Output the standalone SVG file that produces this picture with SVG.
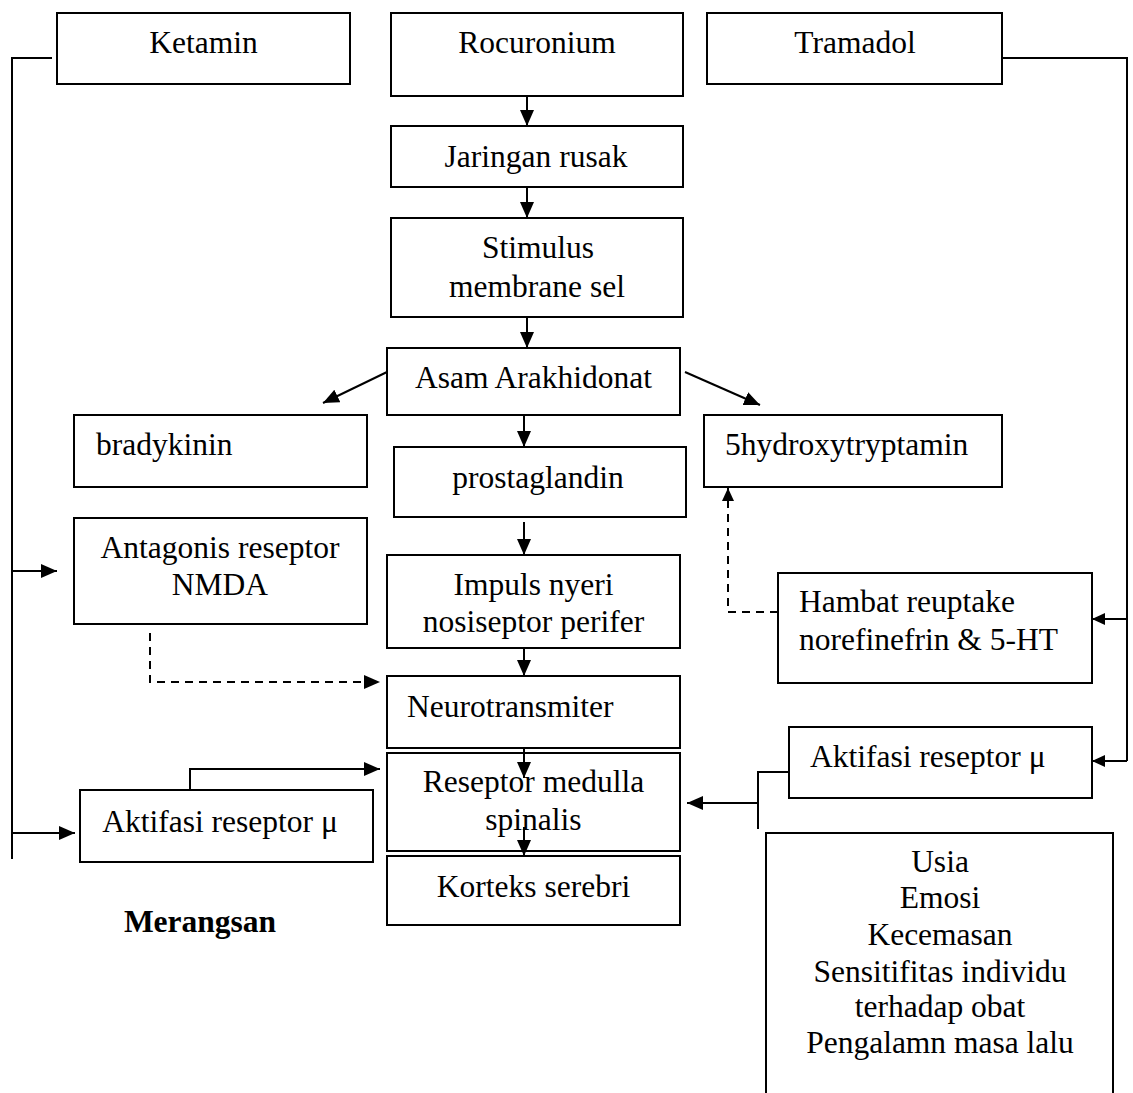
<svg xmlns="http://www.w3.org/2000/svg" width="1133" height="1093" viewBox="0 0 1133 1093">
<defs>
<style>
.b{fill:#fff;stroke:#000;stroke-width:2}
.t{font-family:"Liberation Serif","Times New Roman",serif;font-size:31.5px;fill:#000}
.c{text-anchor:middle}
.l{fill:none;stroke:#000;stroke-width:2}
.d{fill:none;stroke:#000;stroke-width:2;stroke-dasharray:8,6}
.a{marker-end:url(#ah)}
.s{marker-end:url(#as)}
</style>
<marker id="ah" markerUnits="userSpaceOnUse" markerWidth="17" markerHeight="15" refX="16" refY="7" orient="auto">
<path d="M0,0 L16,7 L0,14 z" fill="#000"/>
</marker>
<marker id="as" markerUnits="userSpaceOnUse" markerWidth="14" markerHeight="13" refX="13" refY="6" orient="auto">
<path d="M0,0 L13,6 L0,12 z" fill="#000"/>
</marker>
</defs>
<rect width="1133" height="1093" fill="#fff"/>
<g id="connectors">
<path class="l" d="M52,58 H12 V859"/>
<path class="l a" d="M12,571 H57"/>
<path class="l a" d="M12,833 H75"/>
<path class="l" d="M1002,58 H1127 V761"/>
<path class="l s" d="M1127,619 H1092"/>
<path class="l s" d="M1127,761 H1092"/>
<path class="l a" d="M527,96 V126"/>
<path class="l a" d="M527,187 V218"/>
<path class="l a" d="M527,317 V348"/>
<path class="l a" d="M387,372 L323,403"/>
<path class="l a" d="M685,372 L760,405"/>
<path class="l a" d="M524,415 V447"/>
<path class="l a" d="M524,522 V555"/>
<path class="l a" d="M524,648 V676"/>
<path class="d a" d="M150,633 V682 H380"/>
<path class="d s" d="M778,612 H728 V488"/>
<path class="l a" d="M190,790 V769 H380"/>
<path class="l" d="M789,772 H758 V829"/>
<path class="l a" d="M758,803 H687"/>
</g>
<g id="ketamin"><rect class="b" x="57" y="13" width="293" height="71"/><text class="t c" x="203.5" y="53">Ketamin</text></g>
<g id="rocuronium"><rect class="b" x="391" y="13" width="292" height="83"/><text class="t c" x="537" y="53">Rocuronium</text></g>
<g id="tramadol"><rect class="b" x="707" y="13" width="295" height="71"/><text class="t c" x="855" y="53">Tramadol</text></g>
<g id="jaringan"><rect class="b" x="391" y="126" width="292" height="61"/><text class="t c" x="536" y="167">Jaringan rusak</text></g>
<g id="stimulus"><rect class="b" x="391" y="218" width="292" height="99"/><text class="t c" x="538" y="258">Stimulus</text><text class="t c" x="537" y="297">membrane sel</text></g>
<g id="asam"><rect class="b" x="387" y="348" width="293" height="67"/><text class="t c" x="533.5" y="388">Asam Arakhidonat</text></g>
<g id="bradykinin"><rect class="b" x="74" y="415" width="293" height="72"/><text class="t" x="96" y="455">bradykinin</text></g>
<g id="hydroxy"><rect class="b" x="704" y="415" width="298" height="72"/><text class="t" x="725" y="455">5hydroxytryptamin</text></g>
<g id="prostaglandin"><rect class="b" x="394" y="447" width="292" height="70"/><text class="t c" x="538" y="488">prostaglandin</text></g>
<g id="antagonis"><rect class="b" x="74" y="518" width="293" height="106"/><text class="t c" x="220" y="558">Antagonis reseptor</text><text class="t c" x="220" y="595">NMDA</text></g>
<g id="impuls"><rect class="b" x="387" y="555" width="293" height="93"/><text class="t c" x="533.5" y="595">Impuls nyeri</text><text class="t c" x="533.5" y="632">nosiseptor perifer</text></g>
<g id="hambat"><rect class="b" x="778" y="573" width="314" height="110"/><text class="t" x="799" y="612">Hambat reuptake</text><text class="t" x="799" y="650">norefinefrin &amp; 5-HT</text></g>
<g id="neurotransmiter"><rect class="b" x="387" y="676" width="293" height="72"/><text class="t" x="407" y="717">Neurotransmiter</text></g>
<g id="aktifasi-kanan"><rect class="b" x="789" y="727" width="303" height="71"/><text class="t" x="810" y="767">Aktifasi reseptor μ</text></g>
<g id="reseptor"><rect class="b" x="387" y="753" width="293" height="98"/><text class="t c" x="533.5" y="792">Reseptor medulla</text><text class="t c" x="533.5" y="830">spinalis</text></g>
<g id="aktifasi-kiri"><rect class="b" x="80" y="790" width="293" height="72"/><text class="t c" x="220" y="832">Aktifasi reseptor μ</text></g>
<g id="korteks"><rect class="b" x="387" y="856" width="293" height="69"/><text class="t c" x="533.5" y="897">Korteks serebri</text></g>
<g id="arrows-inner">
<path class="l a" d="M524,748 V778"/>
<path class="l a" d="M524,827 V856"/>
</g>
<g id="merangsan"><text class="t c" x="200" y="932" font-weight="bold">Merangsan</text></g>
<g id="faktor"><path class="b" d="M766,1100 V833 H1113 V1100"/>
<text class="t c" x="940" y="872">Usia</text>
<text class="t c" x="940" y="908">Emosi</text>
<text class="t c" x="940" y="945">Kecemasan</text>
<text class="t c" x="940" y="982">Sensitifitas individu</text>
<text class="t c" x="940" y="1017">terhadap obat</text>
<text class="t c" x="940" y="1053">Pengalamn masa lalu</text>
</g>
</svg>
